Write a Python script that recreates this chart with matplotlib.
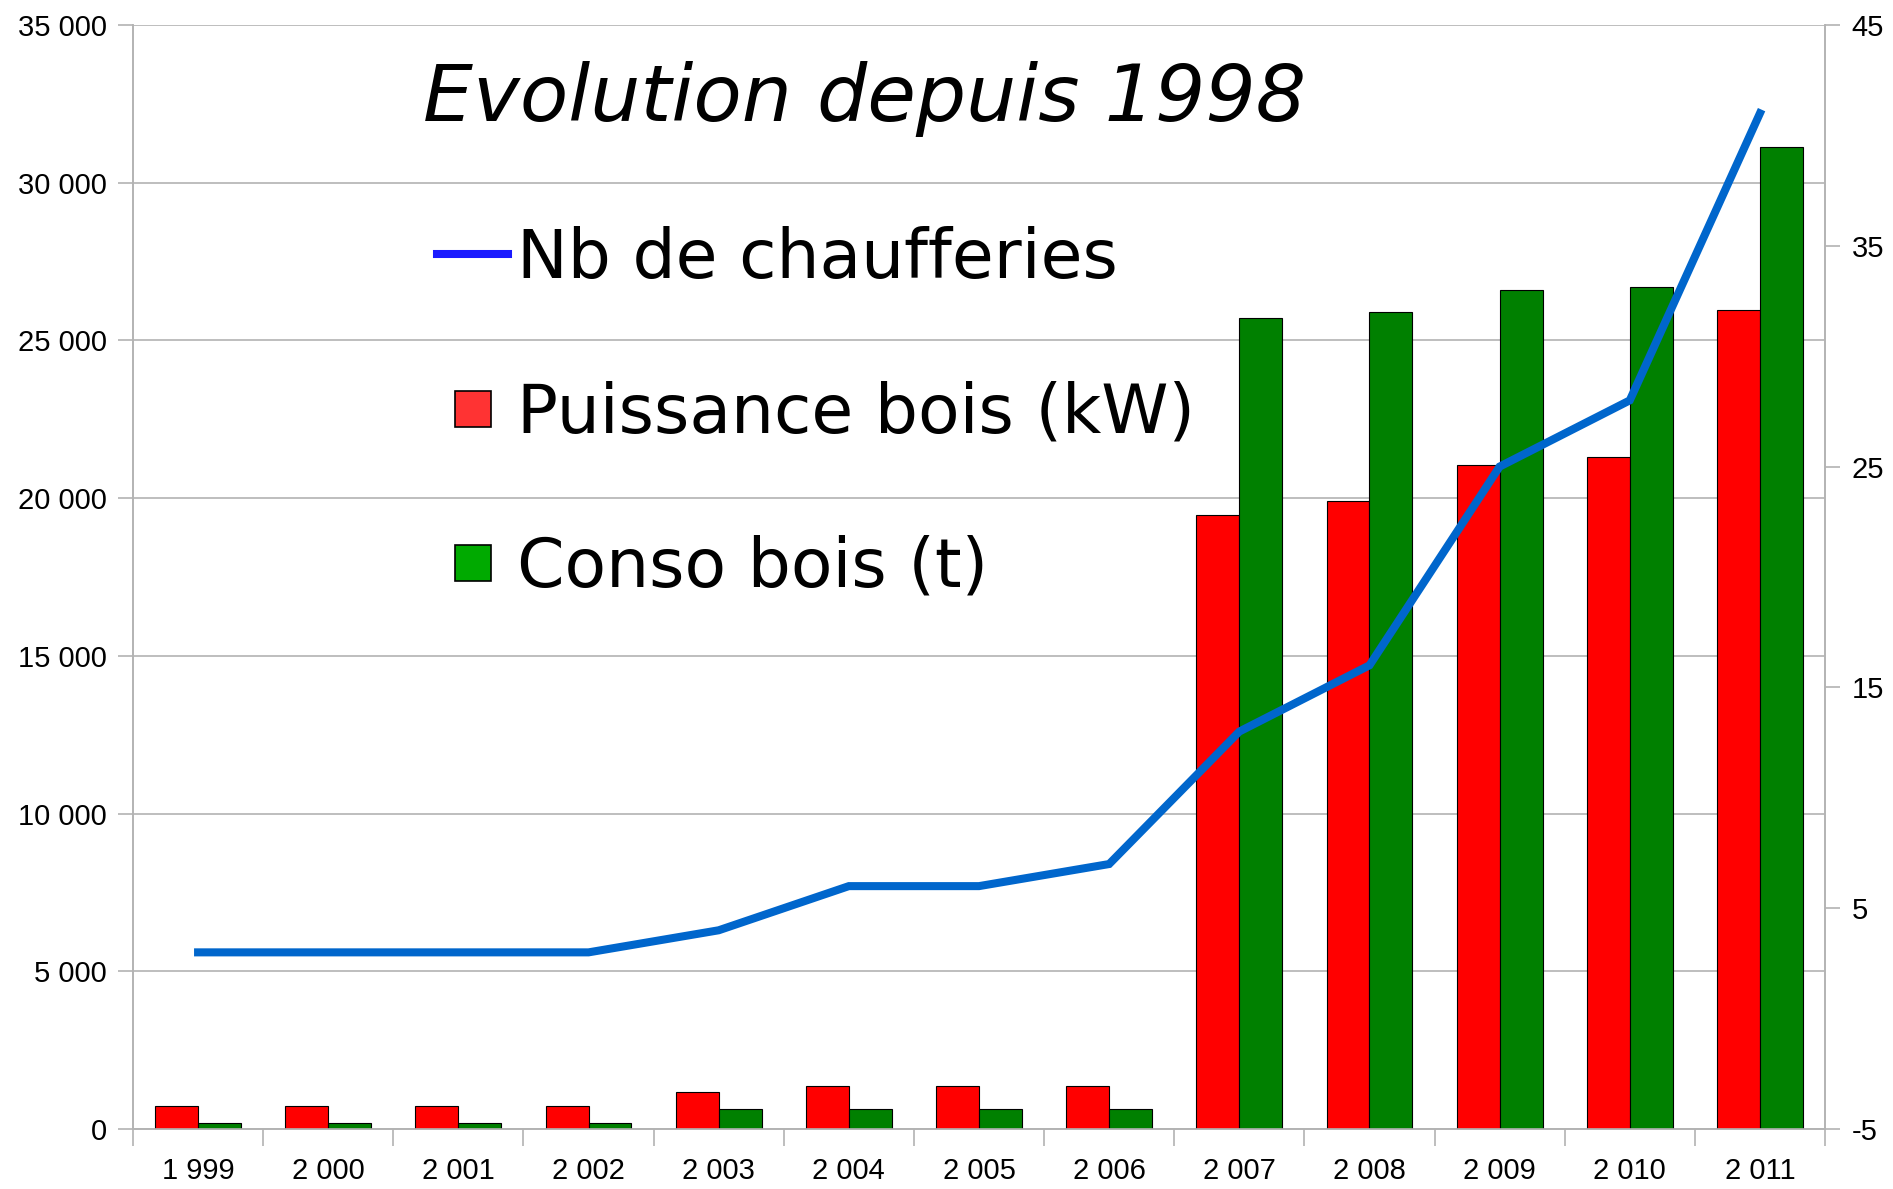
import matplotlib
matplotlib.use("Agg")
import matplotlib.pyplot as plt
from matplotlib.lines import Line2D
import numpy as np

# donnees
years = ["1 999", "2 000", "2 001", "2 002", "2 003", "2 004", "2 005",
         "2 006", "2 007", "2 008", "2 009", "2 010", "2 011"]
puissance_kw = [720, 720, 720, 720, 1170, 1350, 1350, 1350,
                19450, 19900, 21050, 21320, 25960]
conso_t = [180, 180, 180, 180, 640, 640, 640, 640,
           25700, 25890, 26590, 26680, 31140]
nb_chaufferies = [3, 3, 3, 3, 4, 6, 6, 7, 13, 16, 25, 28, 41]

left_ticks = [0, 5000, 10000, 15000, 20000, 25000, 30000, 35000]
right_ticks = [-5, 5, 15, 25, 35, 45]

GRID = "#b3b3b3"
W, H = 1893, 1189

fig = plt.figure(figsize=(W / 100, H / 100), dpi=100)
ax = fig.add_axes([133 / W, 1 - 1129 / H, (1825 - 133) / W, (1129 - 25) / H])
ax2 = ax.twinx()

x = np.arange(len(years))
bw = 0.33
ax.bar(x - bw / 2, puissance_kw, bw, color="#ff0000", edgecolor="black", linewidth=0.8, zorder=3)
ax.bar(x + bw / 2, conso_t, bw, color="#008000", edgecolor="black", linewidth=0.8, zorder=3)
ax2.plot(x, nb_chaufferies, color="#0066cc", linewidth=5.8, solid_joinstyle="miter")

# axe gauche
ax.set_ylim(0, 35000)
ax.set_xlim(-0.5, len(years) - 0.5)
ax.set_yticks(left_ticks)
ax.set_yticklabels([f"{v:,}".replace(",", " ") for v in left_ticks],
                   fontfamily="Liberation Sans", fontsize=21)
ax.grid(axis="y", color=GRID, linewidth=1.2, zorder=0)
ax.set_axisbelow(True)
ax.tick_params(axis="y", length=11, width=1.2, color=GRID, pad=8)

# axe x : labels au centre, traits entre les categories
ax.set_xticks(x)
ax.set_xticklabels(years, fontfamily="Liberation Sans", fontsize=21)
ax.tick_params(axis="x", which="major", length=0, pad=20)
ax.set_xticks(np.arange(-0.5, len(years)), minor=True)
ax.tick_params(axis="x", which="minor", length=12, width=1.2, color=GRID)

# axe droit
ax2.set_ylim(-5, 45)
ax2.set_yticks(right_ticks)
ax2.set_yticklabels([str(v) for v in right_ticks], fontfamily="Liberation Sans", fontsize=21)
ax2.tick_params(axis="y", length=11, width=1.2, color=GRID, pad=8)

for a in (ax, ax2):
    a.spines["top"].set_visible(False)
    for s in ("left", "right", "bottom"):
        a.spines[s].set_color(GRID)
        a.spines[s].set_linewidth(1.2)

fig.text(423 / W, 1 - 121 / H, "Evolution depuis 1998", fontfamily="DejaVu Sans",
         style="italic", fontsize=57, va="baseline", ha="left")

handles = [
    Line2D([], [], color="#1a1aff", linewidth=5.8),
    Line2D([], [], marker="s", linestyle="none", markersize=26,
           markerfacecolor="#ff3333", markeredgecolor="black", markeredgewidth=1.2),
    Line2D([], [], marker="s", linestyle="none", markersize=26,
           markerfacecolor="#00aa00", markeredgecolor="black", markeredgewidth=1.2),
]
labels = ["Nb de chaufferies", "Puissance bois (kW)", "Conso bois (t)"]
fig.legend(handles, labels, loc="upper left", bbox_to_anchor=(437 / W, 1 - 226 / H),
           frameon=False, prop={"family": "DejaVu Sans", "size": 49},
           handlelength=1.05, handletextpad=0.13, labelspacing=1.3, borderpad=0,
           borderaxespad=0)

fig.savefig("out.png", dpi=100)
